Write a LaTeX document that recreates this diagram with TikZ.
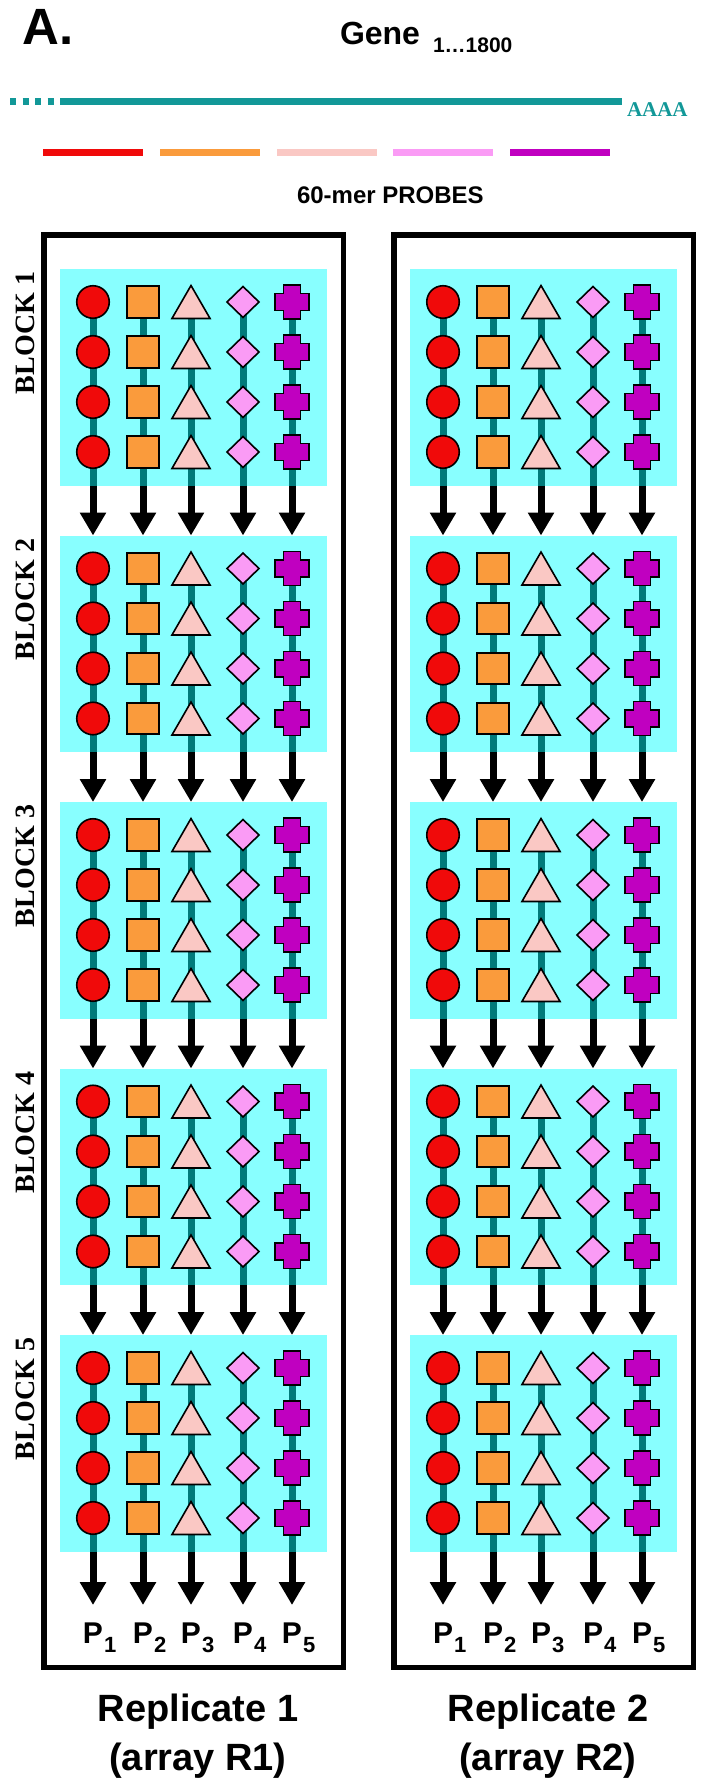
\documentclass[tikz,border=0pt]{standalone}
\usepackage{fontspec}
\setmainfont{Liberation Sans}
\newfontfamily\serifb{Liberation Serif}
\usetikzlibrary{shapes.geometric,arrows.meta}
\newcommand\myfs[1]{\fontsize{#1}{#1}\selectfont}
\definecolor{genec}{RGB}{18,152,152}
\definecolor{vlinec}{RGB}{0,122,122}
\definecolor{cyanc}{RGB}{136,255,255}
\definecolor{redc}{RGB}{240,10,10}
\definecolor{orangec}{RGB}{250,155,60}
\definecolor{pinkc}{RGB}{250,200,196}
\definecolor{lmagc}{RGB}{250,155,245}
\definecolor{purpc}{RGB}{192,0,192}
\tikzset{
  shp/.style={draw=black, line width=1.6pt, inner sep=0pt, outer sep=0pt},
  circ/.style={shp, circle, fill=redc, minimum size=32.5pt},
  sqr/.style={shp, rectangle, fill=orangec, minimum size=31.5pt},
  tri/.style={shp, regular polygon, regular polygon sides=3, fill=pinkc, minimum size=44pt},
  dia/.style={shp, diamond, fill=lmagc, minimum width=32pt, minimum height=31pt},
  crs/.style={shp, fill=purpc, line join=miter},
  blockfill/.style={fill=cyanc},
  vline/.style={draw=vlinec, line width=7pt},
  darrow/.style={draw=black, line width=7pt, -{Triangle[width=25pt,length=23pt]}},
  frm/.style={draw=black, line width=5.5pt},
  genel/.style={draw=genec, line width=7pt},
  probe/.style={line width=7pt},
  txt/.style={inner sep=0pt, outer sep=0pt},
  blabel/.style={txt, font=\serifb\bfseries\myfs{28}, rotate=90},
  plab/.style={txt, font=\bfseries\myfs{30}, anchor=base},
  psub/.style={txt, font=\bfseries\myfs{22}, anchor=base west},
  replab/.style={txt, font=\bfseries\myfs{38}, anchor=base},
}
\begin{document}
\begin{tikzpicture}[x=1pt,y=-1pt]
\useasboundingbox (0,0) rectangle (705,1782);
% ---------- header ----------
\node[txt, anchor=base west, font=\bfseries\myfs{51}] (lblA) at (23,45) {A.};
\node[txt, anchor=base west, font=\bfseries\myfs{32}] (gene) at (340,45) {Gene};
\node[txt, anchor=base west, font=\bfseries\myfs{21}] (geneidx) at (433,53) {1…1800};
\coordinate (g0) at (10,102);
\coordinate (g1) at (54,102);
\coordinate (g2) at (60,102);
\coordinate (g3) at (622,102);
\draw[genel, dash pattern=on 6pt off 6.5pt] (g0) -- (g1);
\draw[genel] (g2) -- (g3);
\node[txt, anchor=base west, font=\serifb\bfseries\myfs{21}, text=genec] (polyA) at (627,117) {AAAA};
\foreach \a/\b/\col [count=\i] in {43/143/redc,160/260/orangec,277/377/pinkc,393/493/lmagc,510/610/purpc}{
  \coordinate (pa\i) at (\a,152);
  \coordinate (pb\i) at (\b,152);
  \draw[probe, draw=\col] (pa\i) -- (pb\i);
}
\node[txt, anchor=base west, font=\bfseries\myfs{24}] (probes) at (297,203) {60-mer PROBES};
% ---------- frames ----------
\draw[frm] (43.75,234.75) rectangle (343.25,1667.25);
\draw[frm] (393.75,234.75) rectangle (693.25,1667.25);
% ---------- blocks ----------
\foreach \px/\pn in {0/L,350/R}{
  \foreach \k in {0,...,4}{
    \pgfmathsetmacro\T{269+266.5*\k}
    \pgfmathsetmacro\B{\T+216.5}
    \pgfmathsetmacro\E{\k==4 ? 1605 : \T+266.5}
    \fill[blockfill] (60+\px,\T) rectangle (327+\px,\B);
    \foreach \c/\cx in {1/93,2/143,3/191,4/243,5/292}{
      \coordinate (\pn-\k-\c-top) at (\cx+\px,\T+33);
      \coordinate (\pn-\k-\c-bot) at (\cx+\px,\B);
      \coordinate (\pn-\k-\c-end) at (\cx+\px,\E);
      \draw[vline] (\pn-\k-\c-top) -- (\pn-\k-\c-bot);
      \draw[darrow] (\pn-\k-\c-bot) -- (\pn-\k-\c-end);
    }
    \foreach \r in {0,...,3}{
      \pgfmathsetmacro\Y{\T+33+50*\r}
      \node[circ] (\pn-\k-\r-c1) at (93+\px,\Y) {};
      \node[sqr] (\pn-\k-\r-c2) at (143+\px,\Y) {};
      \node[tri] (\pn-\k-\r-c3) at (191+\px,\Y+5.5) {};
      \node[dia] (\pn-\k-\r-c4) at (243+\px,\Y) {};
      \coordinate (\pn-\k-\r-c5) at (292+\px,\Y);
      \draw[crs] ([shift={(-8.5,-17)}]\pn-\k-\r-c5) -- ++(17,0) -- ++(0,8.5) -- ++(8.5,0) -- ++(0,17) -- ++(-8.5,0) -- ++(0,8.5) -- ++(-17,0) -- ++(0,-8.5) -- ++(-8.5,0) -- ++(0,-17) -- ++(8.5,0) -- cycle;
    }
  }
  \foreach \c/\cx in {1/93,2/143,3/191,4/243,5/292}{
    \node[plab] (\pn-P\c) at (\cx+\px,1643) {P};
    \node[psub] (\pn-S\c) at ([xshift=1pt,yshift=-9pt]\pn-P\c.base east) {\c};
  }
}
\foreach \k/\n in {0/1,1/2,2/3,3/4,4/5}{
  \pgfmathsetmacro\T{269+266.5*\k}
  \node[blabel] (blk\n) at (25,\T+64) {BLOCK \n};
}
% ---------- bottom labels ----------
\node[replab] (rep1a) at (198,1721) {Replicate 1};
\node[replab] (rep1b) at (198,1770) {(array R1)};
\node[replab] (rep2a) at (548,1721) {Replicate 2};
\node[replab] (rep2b) at (548,1770) {(array R2)};
\end{tikzpicture}
\end{document}
